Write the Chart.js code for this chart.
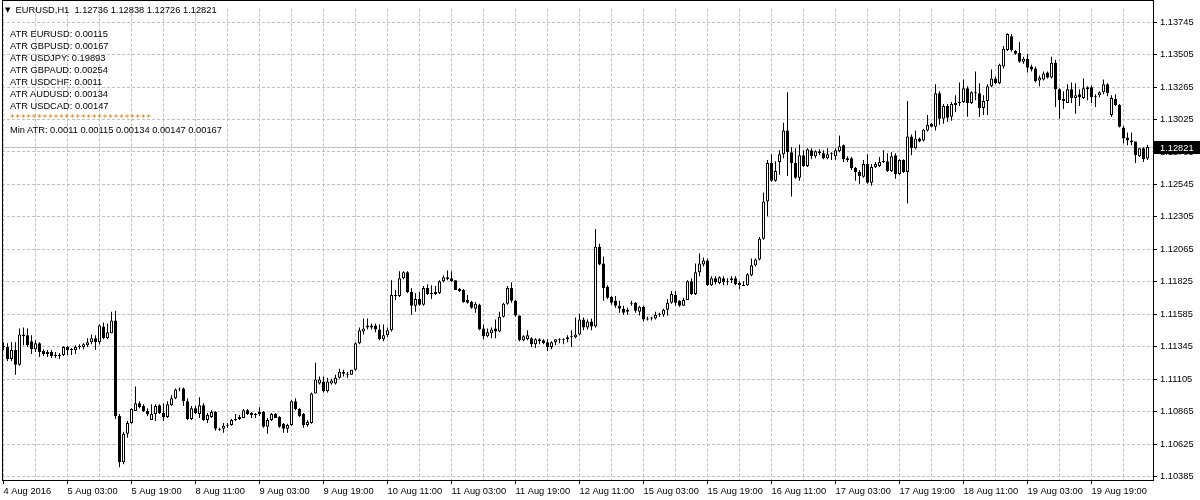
<!DOCTYPE html>
<html>
<head>
<meta charset="utf-8">
<script src="https://cdn.jsdelivr.net/npm/chart.js@4.4.1/dist/chart.umd.min.js"></script>
<style>
  html, body { margin: 0; padding: 0; background: #fff; }
  #wrap { position: relative; width: 1200px; height: 500px; overflow: hidden; }
  .lbl { position: absolute; font: 9.3px "Liberation Sans", Arial, sans-serif; color: #000; white-space: pre; line-height: 12px; }
  .tri { font: 7px "DejaVu Sans", sans-serif; vertical-align: 1px; }
  .stars { font: 9px "DejaVu Sans", sans-serif; color: #d97a00; letter-spacing: 0.96px; }
</style>
</head>
<body>
<div id="wrap">
  <canvas id="chart" width="1200" height="500"></canvas>
  <div class="lbl" style="left:5px;top:4px"><span class="tri">▼</span>  EURUSD,H1  1.12736 1.12838 1.12726 1.12821</div>
  <div class="lbl" style="left:10px;top:28px">ATR EURUSD: 0.00115
ATR GBPUSD: 0.00167
ATR USDJPY: 0.19893
ATR GBPAUD: 0.00254
ATR USDCHF: 0.0011
ATR AUDUSD: 0.00134
ATR USDCAD: 0.00147
<span class="stars">**************************</span>
Min ATR: 0.0011 0.00115 0.00134 0.00147 0.00167</div>
</div>
<script>
// EURUSD H1, 4 Aug 11:00 -> 19 Aug 2016
const timeLabels = ["4 Aug 2016", "5 Aug 03:00", "5 Aug 19:00", "8 Aug 11:00", "9 Aug 03:00", "9 Aug 19:00",
  "10 Aug 11:00", "11 Aug 03:00", "11 Aug 19:00", "12 Aug 11:00", "15 Aug 03:00", "15 Aug 19:00",
  "16 Aug 11:00", "17 Aug 03:00", "17 Aug 19:00", "18 Aug 11:00", "19 Aug 03:00", "19 Aug 19:00"];

const priceTicks = [1.10385, 1.10625, 1.10865, 1.11105, 1.11345, 1.11585, 1.11825, 1.12065,
  1.12305, 1.12545, 1.12785, 1.13025, 1.13265, 1.13505, 1.13745];

const bid = 1.12821;

const open = [
  1.11350,1.11343,1.11256,1.11321,1.11212,1.11437,1.11430,1.11387,1.11328,1.11372,
  1.11314,1.11307,1.11307,1.11285,1.11277,1.11285,1.11343,1.11321,1.11321,1.11343,
  1.11343,1.11357,1.11379,1.11408,1.11379,1.11496,1.11408,1.11445,1.11539,1.10834,
  1.10492,1.10703,1.10783,1.10870,1.10928,1.10907,1.10870,1.10805,1.10848,1.10914,
  1.10856,1.10827,1.10914,1.10965,1.11030,1.11037,1.10943,1.10812,1.10892,1.10848,
  1.10914,1.10805,1.10827,1.10863,1.10739,1.10739,1.10761,1.10768,1.10812,1.10812,
  1.10819,1.10877,1.10856,1.10841,1.10848,1.10863,1.10754,1.10805,1.10848,1.10827,
  1.10776,1.10739,1.10768,1.10943,1.10885,1.10848,1.10768,1.10783,1.11001,1.11074,
  1.11088,1.11016,1.11074,1.11074,1.11117,1.11161,1.11147,1.11139,1.11176,1.11372,
  1.11459,1.11503,1.11488,1.11503,1.11474,1.11401,1.11430,1.11467,1.11721,1.11721,
  1.11852,1.11896,1.11750,1.11648,1.11699,1.11656,1.11779,1.11736,1.11750,1.11743,
  1.11830,1.11859,1.11852,1.11837,1.11772,1.11765,1.11692,1.11677,1.11627,1.11656,
  1.11481,1.11423,1.11445,1.11481,1.11459,1.11568,1.11663,1.11779,1.11685,1.11576,
  1.11394,1.11401,1.11408,1.11365,1.11401,1.11394,1.11379,1.11343,1.11379,1.11401,
  1.11394,1.11401,1.11416,1.11416,1.11437,1.11547,1.11488,1.11532,1.11496,1.12085,
  1.11961,1.11787,1.11714,1.11685,1.11648,1.11627,1.11619,1.11663,1.11670,1.11605,
  1.11641,1.11547,1.11554,1.11554,1.11583,1.11583,1.11619,1.11670,1.11728,1.11685,
  1.11648,1.11692,1.11830,1.11736,1.11896,1.11954,1.11983,1.11801,1.11852,1.11816,
  1.11852,1.11823,1.11837,1.11852,1.11816,1.11801,1.11801,1.11874,1.11947,1.11990,
  1.12143,1.12419,1.12703,1.12572,1.12710,1.12768,1.12943,1.12783,1.12703,1.12594,
  1.12761,1.12681,1.12797,1.12754,1.12790,1.12776,1.12739,1.12768,1.12754,1.12790,
  1.12834,1.12739,1.12739,1.12667,1.12637,1.12601,1.12696,1.12557,1.12674,1.12681,
  1.12710,1.12717,1.12645,1.12761,1.12623,1.12725,1.12637,1.12899,1.12812,1.12885,
  1.12870,1.12943,1.12994,1.12972,1.13219,1.13030,1.13125,1.13045,1.13132,1.13147,
  1.13154,1.13256,1.13147,1.13227,1.13219,1.13110,1.13161,1.13270,1.13328,1.13292,
  1.13416,1.13539,1.13641,1.13532,1.13517,1.13452,1.13474,1.13416,1.13401,1.13314,
  1.13321,1.13372,1.13336,1.13445,1.13248,1.13176,1.13147,1.13248,1.13183,1.13212,
  1.13183,1.13263,1.13263,1.13197,1.13205,1.13227,1.13285,1.13059,1.13176,1.13132,
  1.12965,1.12892,1.12870,1.12863,1.12754,1.12812,1.12736
];

const high = [
  1.11379,1.11372,1.11379,1.11379,1.11481,1.11488,1.11481,1.11430,1.11394,1.11379,
  1.11328,1.11321,1.11321,1.11307,1.11299,1.11350,1.11350,1.11336,1.11357,1.11365,
  1.11372,1.11408,1.11437,1.11430,1.11510,1.11525,1.11517,1.11605,1.11612,1.10848,
  1.10717,1.10797,1.10892,1.11052,1.10943,1.10921,1.10892,1.10921,1.10921,1.10921,
  1.10928,1.10943,1.10987,1.11037,1.11045,1.11045,1.10965,1.10907,1.10907,1.10972,
  1.10928,1.10856,1.10877,1.10870,1.10747,1.10783,1.10783,1.10812,1.10848,1.10841,
  1.10885,1.10885,1.10863,1.10856,1.10899,1.10870,1.10819,1.10856,1.10856,1.10834,
  1.10783,1.10776,1.10950,1.10965,1.10892,1.10856,1.10805,1.11008,1.11227,1.11125,
  1.11125,1.11117,1.11110,1.11139,1.11183,1.11176,1.11161,1.11176,1.11379,1.11488,
  1.11554,1.11554,1.11517,1.11517,1.11510,1.11510,1.11488,1.11837,1.11765,1.11903,
  1.11903,1.11903,1.11779,1.11743,1.11750,1.11794,1.11808,1.11801,1.11794,1.11837,
  1.11874,1.11910,1.11903,1.11837,1.11779,1.11772,1.11728,1.11685,1.11677,1.11663,
  1.11510,1.11481,1.11488,1.11547,1.11605,1.11670,1.11794,1.11823,1.11692,1.11576,
  1.11430,1.11467,1.11416,1.11408,1.11408,1.11401,1.11401,1.11387,1.11401,1.11408,
  1.11408,1.11430,1.11467,1.11561,1.11590,1.11561,1.11547,1.11554,1.12216,1.12107,
  1.12012,1.11801,1.11721,1.11721,1.11685,1.11648,1.11634,1.11685,1.11677,1.11648,
  1.11648,1.11568,1.11568,1.11605,1.11597,1.11627,1.11699,1.11757,1.11757,1.11692,
  1.11707,1.11837,1.11852,1.11961,1.12034,1.12005,1.11997,1.11867,1.11867,1.11867,
  1.11867,1.11852,1.11867,1.11867,1.11830,1.11830,1.11888,1.11997,1.11997,1.12157,
  1.12485,1.12725,1.12768,1.12717,1.12797,1.13001,1.13227,1.12819,1.12812,1.12841,
  1.12797,1.12812,1.12812,1.12797,1.12805,1.12797,1.12812,1.12783,1.12812,1.12907,
  1.12841,1.12754,1.12747,1.12674,1.12652,1.12725,1.12768,1.12696,1.12710,1.12747,
  1.12797,1.12776,1.12783,1.12776,1.12732,1.12732,1.13161,1.12914,1.12943,1.12892,
  1.12957,1.13059,1.13001,1.13285,1.13234,1.13139,1.13139,1.13154,1.13205,1.13299,
  1.13321,1.13270,1.13234,1.13379,1.13292,1.13205,1.13285,1.13394,1.13343,1.13437,
  1.13568,1.13663,1.13656,1.13539,1.13597,1.13488,1.13510,1.13430,1.13416,1.13350,
  1.13379,1.13379,1.13488,1.13467,1.13256,1.13234,1.13285,1.13299,1.13292,1.13248,
  1.13328,1.13270,1.13277,1.13212,1.13234,1.13321,1.13292,1.13205,1.13212,1.13139,
  1.12979,1.12928,1.12928,1.12863,1.12812,1.12819,1.12838
];

const low = [
  1.11321,1.11241,1.11241,1.11139,1.11205,1.11357,1.11343,1.11292,1.11307,1.11270,
  1.11277,1.11270,1.11263,1.11263,1.11256,1.11277,1.11285,1.11285,1.11292,1.11328,
  1.11328,1.11343,1.11365,1.11321,1.11365,1.11401,1.11401,1.11445,1.10812,1.10456,
  1.10477,1.10674,1.10776,1.10870,1.10892,1.10863,1.10834,1.10805,1.10797,1.10848,
  1.10797,1.10819,1.10907,1.10957,1.11016,1.10907,1.10805,1.10805,1.10848,1.10819,
  1.10797,1.10783,1.10819,1.10725,1.10725,1.10710,1.10747,1.10761,1.10797,1.10805,
  1.10819,1.10841,1.10819,1.10819,1.10834,1.10747,1.10703,1.10797,1.10819,1.10747,
  1.10710,1.10710,1.10761,1.10877,1.10827,1.10747,1.10754,1.10776,1.11001,1.11067,
  1.11008,1.11008,1.11067,1.11067,1.11110,1.11125,1.11117,1.11139,1.11168,1.11365,
  1.11437,1.11474,1.11474,1.11452,1.11394,1.11387,1.11416,1.11459,1.11692,1.11714,
  1.11845,1.11743,1.11583,1.11605,1.11648,1.11648,1.11728,1.11699,1.11728,1.11736,
  1.11823,1.11837,1.11823,1.11765,1.11750,1.11670,1.11663,1.11627,1.11597,1.11467,
  1.11401,1.11416,1.11408,1.11408,1.11452,1.11561,1.11656,1.11670,1.11568,1.11387,
  1.11387,1.11394,1.11343,1.11336,1.11365,1.11365,1.11314,1.11328,1.11357,1.11372,
  1.11365,1.11379,1.11343,1.11408,1.11430,1.11467,1.11474,1.11467,1.11488,1.11947,
  1.11685,1.11699,1.11656,1.11634,1.11597,1.11583,1.11583,1.11648,1.11597,1.11576,
  1.11532,1.11539,1.11539,1.11547,1.11568,1.11568,1.11576,1.11663,1.11648,1.11641,
  1.11648,1.11692,1.11728,1.11728,1.11867,1.11939,1.11794,1.11794,1.11808,1.11808,
  1.11801,1.11801,1.11816,1.11801,1.11772,1.11794,1.11794,1.11867,1.11939,1.11983,
  1.12136,1.12310,1.12565,1.12565,1.12616,1.12739,1.12608,1.12456,1.12587,1.12572,
  1.12674,1.12674,1.12732,1.12739,1.12761,1.12732,1.12732,1.12725,1.12725,1.12783,
  1.12710,1.12710,1.12652,1.12572,1.12550,1.12594,1.12550,1.12536,1.12667,1.12674,
  1.12703,1.12637,1.12637,1.12587,1.12616,1.12630,1.12405,1.12761,1.12805,1.12856,
  1.12863,1.12936,1.12965,1.12943,1.12987,1.12994,1.13008,1.13016,1.13081,1.13125,
  1.13147,1.13045,1.13139,1.13168,1.13045,1.13059,1.13059,1.13263,1.13285,1.13285,
  1.13401,1.13532,1.13525,1.13503,1.13445,1.13437,1.13372,1.13379,1.13299,1.13270,
  1.13314,1.13328,1.13328,1.13117,1.13030,1.13103,1.13147,1.13147,1.13067,1.13125,
  1.13176,1.13168,1.13147,1.13117,1.13190,1.13212,1.13197,1.13045,1.13125,1.12965,
  1.12848,1.12834,1.12834,1.12703,1.12747,1.12710,1.12726
];

const close = [
  1.11343,1.11256,1.11321,1.11212,1.11437,1.11423,1.11357,1.11328,1.11372,1.11307,
  1.11292,1.11292,1.11277,1.11277,1.11285,1.11343,1.11321,1.11321,1.11343,1.11350,
  1.11365,1.11379,1.11408,1.11379,1.11503,1.11408,1.11452,1.11539,1.10834,1.10492,
  1.10703,1.10783,1.10885,1.10928,1.10899,1.10870,1.10848,1.10848,1.10907,1.10856,
  1.10827,1.10921,1.10965,1.11030,1.11037,1.10943,1.10812,1.10892,1.10856,1.10914,
  1.10805,1.10841,1.10863,1.10739,1.10732,1.10761,1.10768,1.10805,1.10805,1.10827,
  1.10877,1.10848,1.10841,1.10848,1.10863,1.10754,1.10805,1.10848,1.10819,1.10754,
  1.10739,1.10768,1.10943,1.10885,1.10834,1.10768,1.10790,1.11001,1.11103,1.11103,
  1.11016,1.11088,1.11096,1.11117,1.11161,1.11147,1.11139,1.11176,1.11372,1.11467,
  1.11481,1.11488,1.11503,1.11474,1.11401,1.11430,1.11467,1.11728,1.11728,1.11852,
  1.11896,1.11750,1.11648,1.11699,1.11656,1.11779,1.11736,1.11743,1.11736,1.11830,
  1.11859,1.11845,1.11830,1.11765,1.11757,1.11677,1.11670,1.11634,1.11663,1.11474,
  1.11423,1.11452,1.11474,1.11459,1.11568,1.11663,1.11779,1.11685,1.11576,1.11394,
  1.11423,1.11430,1.11365,1.11401,1.11387,1.11372,1.11343,1.11379,1.11401,1.11394,
  1.11401,1.11416,1.11423,1.11437,1.11547,1.11488,1.11532,1.11496,1.12085,1.11954,
  1.11779,1.11707,1.11670,1.11648,1.11627,1.11597,1.11605,1.11670,1.11612,1.11641,
  1.11547,1.11554,1.11554,1.11583,1.11583,1.11619,1.11670,1.11736,1.11670,1.11648,
  1.11692,1.11830,1.11736,1.11896,1.11961,1.11983,1.11801,1.11852,1.11823,1.11859,
  1.11823,1.11830,1.11852,1.11808,1.11801,1.11794,1.11881,1.11947,1.11990,1.12143,
  1.12419,1.12703,1.12572,1.12645,1.12768,1.12943,1.12783,1.12703,1.12594,1.12761,
  1.12681,1.12805,1.12754,1.12790,1.12776,1.12739,1.12768,1.12768,1.12797,1.12827,
  1.12732,1.12725,1.12667,1.12637,1.12608,1.12696,1.12557,1.12674,1.12696,1.12710,
  1.12717,1.12645,1.12754,1.12623,1.12725,1.12637,1.12899,1.12812,1.12885,1.12863,
  1.12950,1.12987,1.12972,1.13219,1.13030,1.13125,1.13037,1.13139,1.13147,1.13154,
  1.13256,1.13147,1.13227,1.13219,1.13110,1.13161,1.13270,1.13328,1.13292,1.13430,
  1.13547,1.13656,1.13539,1.13510,1.13452,1.13474,1.13408,1.13394,1.13307,1.13336,
  1.13365,1.13336,1.13445,1.13248,1.13168,1.13161,1.13248,1.13183,1.13205,1.13190,
  1.13256,1.13248,1.13190,1.13190,1.13227,1.13285,1.13219,1.13183,1.13132,1.12972,
  1.12885,1.12870,1.12856,1.12761,1.12812,1.12732,1.12821
];

const FONT = '"Liberation Sans", Arial, sans-serif';
const barIdx = close.map((c, i) => i);
const gridIdx = [];
for (let v = 0; v <= 280; v += 8) gridIdx.push(v);

const wicks = barIdx.map(i => ({ x: i, y: [low[i], high[i]] }));
const bodies = barIdx.map(i => ({ x: i, y: [open[i], close[i]] }));
const bodyFill = barIdx.map(i => close[i] > open[i] ? '#ffffff' : '#000000');

// bid line, frame and price tag
const mtDecor = {
  id: 'mtDecor',
  beforeDatasetsDraw(chart) {
    const { ctx, chartArea: a } = chart;
    const py = Math.floor(chart.scales.y.getPixelForValue(bid)) + 0.5;
    ctx.save();
    ctx.strokeStyle = '#c0c0c0';
    ctx.lineWidth = 1;
    ctx.beginPath();
    ctx.moveTo(a.left, py);
    ctx.lineTo(a.right, py);
    ctx.stroke();
    ctx.restore();
  },
  afterDraw(chart) {
    const { ctx, chartArea: a } = chart;
    const py = Math.floor(chart.scales.y.getPixelForValue(bid)) + 0.5;
    ctx.save();
    ctx.strokeStyle = '#000';
    ctx.lineWidth = 1;
    ctx.strokeRect(a.left + 0.5, 0.5, a.right - a.left, a.bottom);
    ctx.fillStyle = '#000';
    ctx.fillRect(a.right, py - 6.5, chart.width - a.right, 13);
    ctx.fillStyle = '#fff';
    ctx.font = '9.3px ' + FONT;
    ctx.textBaseline = 'middle';
    ctx.fillText(bid.toFixed(5), a.right + 7, py + 0.5);
    ctx.restore();
  }
};

new Chart(document.getElementById('chart'), {
  type: 'bar',
  data: {
    datasets: [
      {
        data: wicks,
        backgroundColor: '#000000',
        borderWidth: 0,
        barThickness: 1,
        grouped: false,
        inflateAmount: 0,
        order: 2
      },
      {
        data: bodies,
        backgroundColor: bodyFill,
        borderColor: '#000000',
        borderWidth: 1,
        borderSkipped: false,
        barThickness: 3,
        minBarLength: 1,
        grouped: false,
        inflateAmount: 0,
        order: 1
      }
    ]
  },
  options: {
    responsive: false,
    animation: false,
    devicePixelRatio: 1,
    layout: { padding: { left: 2, top: 1, right: 0, bottom: 0 } },
    plugins: { legend: { display: false }, tooltip: { enabled: false } },
    scales: {
      x: {
        type: 'linear',
        offset: false,
        min: -0.375,
        max: 287.375,
        afterBuildTicks: s => { s.ticks = gridIdx.map(v => ({ value: v })); },
        afterFit: s => { s.height = 20; s.paddingLeft = 0; s.paddingRight = 0; },
        border: { display: false, dash: [3, 2] },
        grid: {
          offset: false,
          color: '#c0c0c0',
          lineWidth: 1,
          tickLength: 4,
          tickColor: c => (c.tick && c.tick.value % 16 === 0) ? '#000000' : 'rgba(0,0,0,0)'
        },
        ticks: {
          autoSkip: false,
          maxRotation: 0,
          align: 'start',
          padding: 2,
          color: '#000',
          font: { family: FONT, size: 9.3 },
          callback: v => v % 16 === 0 ? timeLabels[v / 16] : ''
        }
      },
      y: {
        type: 'linear',
        position: 'right',
        min: 1.10361,
        max: 1.138446,
        afterBuildTicks: s => { s.ticks = priceTicks.map(v => ({ value: v })); },
        afterFit: s => { s.width = 47; },
        border: { display: false, dash: [3, 2] },
        grid: { color: '#c0c0c0', lineWidth: 1, tickLength: 4, tickColor: '#000000' },
        ticks: {
          padding: 3,
          color: '#000',
          font: { family: FONT, size: 9.3 },
          callback: v => v.toFixed(5)
        }
      }
    }
  },
  plugins: [mtDecor]
});
</script>
</body>
</html>
